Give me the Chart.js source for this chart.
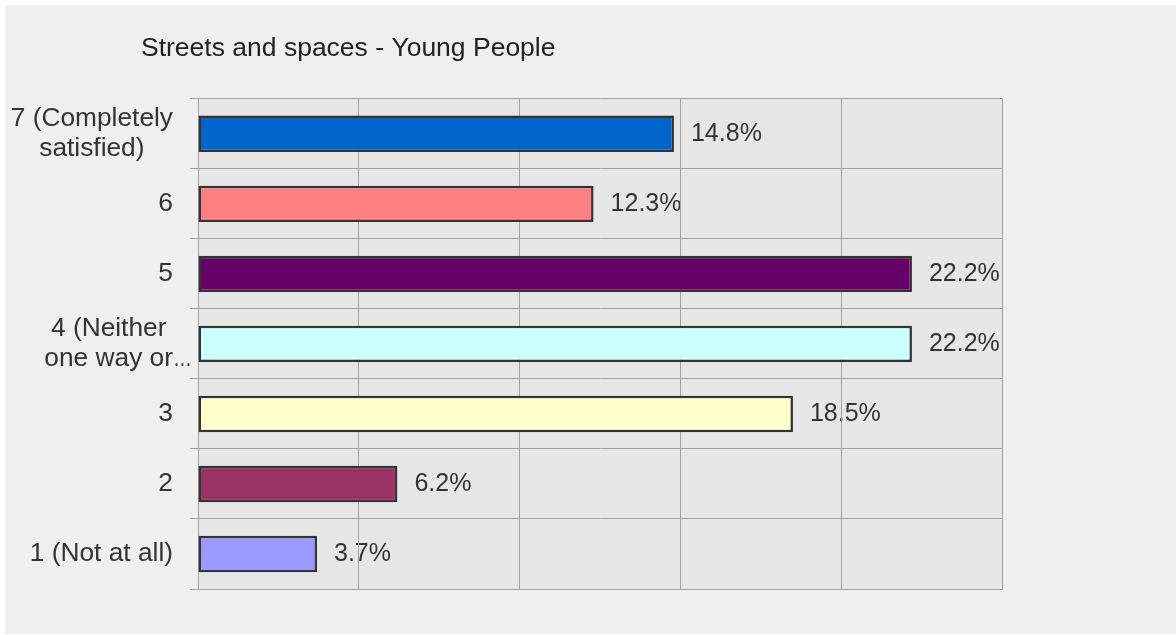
<!DOCTYPE html>
<html>
<head>
<meta charset="utf-8">
<script src="https://cdn.jsdelivr.net/npm/chart.js@4"></script>
<style>
body { margin: 0; background: #fff; }
#panel { position: absolute; left: 5px; top: 5px; width: 1171px; height: 629px; background: #efefef; }
</style>
</head>
<body>
<div id="panel"><canvas id="chart" width="1171" height="629"></canvas></div>
<script>
// data
var labels = [
	['7 (Completely', 'satisfied)'],
	'6',
	'5',
	['4 (Neither', 'one way or\u2026'],
	'3',
	'2',
	'1 (Not at all)'
]
var values = [14.8, 12.3, 22.2, 22.2, 18.5, 6.2, 3.7]
var colors = ['#0066cc', '#ff8080', '#660066', '#ccffff', '#ffffcc', '#993366', '#9999ff']
var xTicks = [0, 5, 10, 15, 20, 25]

var font = '"Liberation Sans", Arial, sans-serif'
var gridColor = '#a0a0a0'

// plot background + value labels (drawn under the grid like the original)
var underGrid = {
	id: 'underGrid',
	afterLayout: function (chart) {
		// title sits left of the plot, not at the canvas edge
		chart.titleBlock.left = 136
	},
	beforeDraw: function (chart) {
		var ctx = chart.ctx
		var a = chart.chartArea
		ctx.save()
		ctx.fillStyle = '#e6e6e6'
		ctx.fillRect(a.left, a.top, a.right - a.left, a.bottom - a.top)
		ctx.fillStyle = '#333'
		ctx.font = '25px ' + font
		ctx.textBaseline = 'middle'
		ctx.textAlign = 'left'
		chart.getDatasetMeta(0).data.forEach(function (bar, i) {
			ctx.fillText(values[i].toFixed(1) + '%', bar.x + 17, bar.y)
		})
		ctx.restore()
	}
}

// category labels: block right-aligned, lines centred inside it, ellipsis hangs out
var catLabels = {
	id: 'catLabels',
	afterDraw: function (chart) {
		var ctx = chart.ctx
		var y = chart.scales.y
		var right = y.right - 8 - 17
		var lh = 30
		ctx.save()
		ctx.fillStyle = '#333'
		ctx.font = '26.3px ' + font
		ctx.textBaseline = 'middle'
		ctx.textAlign = 'left'
		labels.forEach(function (lab, i) {
			var lines = [].concat(lab).map(function (s) {
				var tail = s.slice(-1) === '\u2026' ? '\u2026' : ''
				return { body: tail ? s.slice(0, -1) : s, tail: tail }
			})
			var widest = Math.max.apply(null, lines.map(function (l) { return ctx.measureText(l.body).width }))
			var mid = right - widest / 2
			var cy = y.getPixelForTick(i)
			lines.forEach(function (l, j) {
				var w = ctx.measureText(l.body).width
				var lx = mid - w / 2
				var ly = cy + (j - (lines.length - 1) / 2) * lh
				ctx.fillText(l.body, lx, ly)
				if (l.tail) {
					// narrow ellipsis like the original
					ctx.save()
					ctx.translate(lx + w, ly)
					ctx.scale(0.72, 1)
					ctx.fillText(l.tail, 0, 0)
					ctx.restore()
				}
			})
		})
		ctx.restore()
	}
}

new Chart(document.getElementById('chart'), {
	type: 'bar',
	data: {
		labels: labels,
		datasets: [{
			data: values,
			backgroundColor: colors,
			borderColor: '#333',
			borderWidth: 2.5,
			borderSkipped: false,
			barPercentage: 0.52,
			categoryPercentage: 1
		}]
	},
	options: {
		indexAxis: 'y',
		responsive: false,
		animation: false,
		layout: { padding: { left: 0, right: 174, top: 0, bottom: 45 } },
		plugins: {
			legend: { display: false },
			tooltip: { enabled: false },
			title: {
				display: true,
				text: 'Streets and spaces - Young People',
				align: 'start',
				color: '#222',
				font: { family: font, size: 26.5, weight: 'normal', lineHeight: 1.2 },
				padding: { top: 28, bottom: 34 }
			}
		},
		scales: {
			x: {
				min: xTicks[0],
				max: xTicks[xTicks.length - 1],
				afterBuildTicks: function (scale) {
					scale.ticks = xTicks.map(function (v) { return { value: v } })
				},
				afterFit: function (scale) { scale.height = 0 },
				ticks: { display: false },
				grid: { color: gridColor, drawTicks: false },
				border: { color: gridColor }
			},
			y: {
				afterFit: function (scale) { scale.width = 193 },
				ticks: { display: false },
				grid: { color: gridColor, tickLength: 8 },
				border: { color: gridColor }
			}
		}
	},
	plugins: [underGrid, catLabels]
})
</script>
</body>
</html>
